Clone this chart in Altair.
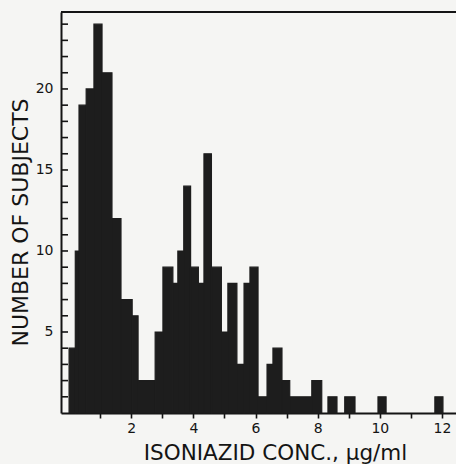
import altair as alt
import pandas as pd

# Histogram of isoniazid concentrations (bin edges in ug/ml, as drawn)
bin_edges = [0, 0.2, 0.32, 0.55, 0.8, 1.06, 1.38, 1.67, 2.03, 2.22,
             2.77, 3.02, 3.34, 3.5, 3.69, 3.91, 4.16, 4.34, 4.58, 4.9,
             5.11, 5.4, 5.63, 5.82, 6.08, 6.37, 6.56, 6.85, 7.1, 7.81,
             8.13, 8.33, 8.62, 8.87, 9.2, 9.94, 10.2, 11.77, 12.03]
subjects = [4, 10, 19, 20, 24, 21, 12, 7, 6, 2,
            5, 9, 8, 10, 14, 9, 8, 16, 9, 5,
            8, 3, 8, 9, 1, 3, 4, 2, 1, 2,
            0, 1, 0, 1, 0, 1, 0, 1]

x_ticks = [1, 2, 3, 4, 5, 6, 7, 8, 9, 10, 11, 12]
y_labels = [5, 10, 15, 20]
y_minor = list(range(1, 25))

df = pd.DataFrame({"lo": bin_edges[:-1], "hi": bin_edges[1:], "n": subjects})
df = df[df["n"] > 0]

xscale = alt.Scale(domain=[-0.26, 12.45], nice=False, zero=False)
yscale = alt.Scale(domain=[0, 24.75], nice=False, zero=True)

FONT = "DejaVu Sans"
INK = "#141414"
BAR = "#1d1d1d"

y_axis = alt.Axis(values=y_labels, ticks=False,
                  title="NUMBER OF SUBJECTS",
                  titleFont=FONT, titleFontSize=22, titleFontWeight="normal",
                  titleColor=INK, titleX=-41, titleY=210,
                  titleAlign="center", titleBaseline="middle", titleAngle=270,
                  labelFont=FONT, labelFontSize=14, labelColor=INK,
                  labelPadding=8, domain=True, domainColor=INK,
                  domainWidth=2, grid=False)

bars = alt.Chart(df).mark_rect(fill=BAR, stroke=BAR, strokeWidth=1.2).encode(
    x=alt.X("lo:Q", scale=xscale,
            axis=alt.Axis(values=x_ticks,
                          labelExpr="datum.value % 2 == 0 ? datum.label : ''",
                          title="ISONIAZID CONC.,  μg/ml",
                          titleFont=FONT, titleFontSize=21.5, titleFontWeight="normal",
                          titleColor=INK, titleX=214, titleY=46,
                          titleAnchor="start", titleAlign="center", titleBaseline="alphabetic",
                          labelFont=FONT, labelFontSize=14, labelColor=INK,
                          labelPadding=3, tickSize=5, tickWidth=1.6, tickColor=INK,
                          domain=True, domainColor=INK, domainWidth=2, grid=False)),
    x2="hi:Q",
    y=alt.Y("n:Q", scale=yscale, axis=y_axis),
    y2=alt.datum(0),
)

minor = alt.Chart(pd.DataFrame({"t": y_minor})).mark_rule(color=INK, strokeWidth=1.6).encode(
    y=alt.Y("t:Q", scale=yscale, axis=y_axis),
    x=alt.value(0),
    x2=alt.value(7),
)

top = alt.Chart(pd.DataFrame({"t": [0]})).mark_rule(color=INK, strokeWidth=2).encode(
    y=alt.value(0),
    x=alt.value(0),
    x2=alt.value(395),
)

chart = alt.layer(bars, minor, top).properties(
    width=395,
    height=401,
    padding={"left": 61, "top": 12, "right": 0, "bottom": 51},
    autosize=alt.AutoSizeParams(type="none"),
    background="#f5f5f3",
).configure_view(stroke=None)

chart.save("out.html", embed_options={"renderer": "svg", "actions": False})
